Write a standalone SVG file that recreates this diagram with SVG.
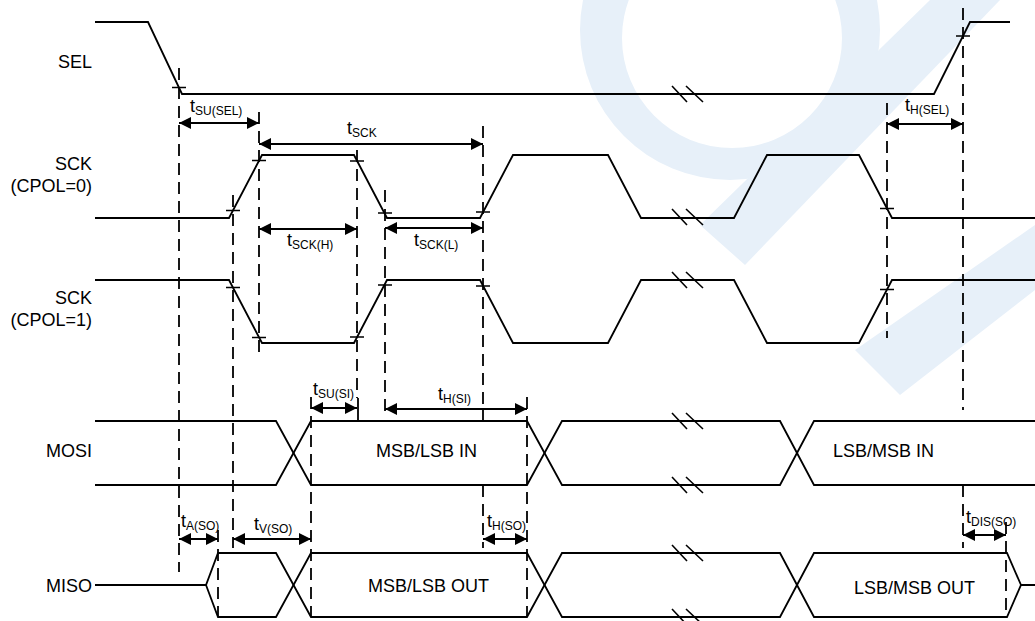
<svg xmlns="http://www.w3.org/2000/svg" width="1035" height="621" viewBox="0 0 1035 621">
<defs>
<marker id="ah" markerUnits="userSpaceOnUse" markerWidth="12" markerHeight="12" refX="12" refY="6" orient="auto-start-reverse"><path d="M0,0 L12,6 L0,12 z" fill="#000"/></marker>
<style>
.w{fill:none;stroke:#000;stroke-width:1.8;stroke-linejoin:miter}
.d{fill:none;stroke:#000;stroke-width:1.8;stroke-dasharray:12 7}
.x{fill:none;stroke:#000;stroke-width:1.6}
.a{stroke:#000;stroke-width:1.8;marker-start:url(#ah);marker-end:url(#ah)}
.lbl{font-family:"Liberation Sans",Arial,sans-serif;font-size:18px;fill:#000}
.sub{font-size:12px}
.wm{fill:#e7f0f9}
</style>
</defs>
<rect width="1035" height="621" fill="#fff"/>
<g id="watermark">
<path class="wm" fill-rule="evenodd" d="M580,30 a150,150 0 1,0 300,0 a150,150 0 1,0 -300,0 Z M622,38 a110,110 0 1,0 220,0 a110,110 0 1,0 -220,0 Z"/>
<path class="wm" d="M930,0 L1000,0 L745,265 L700,225 Z"/>
<path class="wm" d="M1035,225 L1035,290 L900,395 L855,350 Z"/>
</g>
<g id="sel">
<text class="lbl" x="92" y="68" text-anchor="end">SEL</text>
<path class="w" d="M95,22 H148 L182,94 H934 L970,22 H1010"/>
</g>
<g id="sck0">
<text class="lbl" x="92" y="170" text-anchor="end">SCK</text>
<text class="lbl" x="92" y="192" text-anchor="end">(CPOL=0)</text>
<path class="w" d="M95,218 H229 L262,155 H354 L387,218 H480 L513,155 H608 L641,218 H734 L767,155 H859 L892,218 H1035"/>
</g>
<g id="sck1">
<text class="lbl" x="92" y="304" text-anchor="end">SCK</text>
<text class="lbl" x="92" y="326" text-anchor="end">(CPOL=1)</text>
<path class="w" d="M95,280 H229 L262,343 H354 L387,280 H480 L513,343 H608 L641,280 H734 L767,343 H859 L892,280 H1035"/>
</g>
<g id="mosi">
<text class="lbl" x="92" y="457" text-anchor="end">MOSI</text>
<path class="w" d="M95,421 H276 L311,485 H527 L562,421 H780 L814,485 H1035"/>
<path class="w" d="M95,485 H276 L311,421 H527 L562,485 H780 L814,421 H1035"/>
<text class="lbl" x="376" y="457">MSB/LSB IN</text>
<text class="lbl" x="833" y="457">LSB/MSB IN</text>
</g>
<g id="miso">
<text class="lbl" x="92" y="592" text-anchor="end">MISO</text>
<path class="w" d="M95,585 H206 L218,553 H276 L311,617 H527 L562,553 H780 L814,617 H1007 L1021,585 H1035"/>
<path class="w" d="M206,585 L218,617 H276 L311,553 H527 L562,617 H780 L814,553 H1007 L1021,585"/>
<text class="lbl" x="368" y="592">MSB/LSB OUT</text>
<text class="lbl" x="854" y="594">LSB/MSB OUT</text>
</g>
<g id="breaks">
<path class="x" d="M672,86 L687,102 M686,86 L703,102 M672,209 L687,225 M686,209 L703,225 M672,272 L687,288 M686,272 L703,288 M672,413 L687,429 M686,413 L703,429 M672,477 L687,493 M686,477 L703,493 M672,545 L687,561 M686,545 L703,561 M672,609 L687,625 M686,609 L703,625"/>
</g>
<g id="connectors">
<path class="d" d="M179,68 V572 M233,195 V548 M259,112 V356 M357,150 V398 M385,190 V414 M483,126 V408 M483,485 V548 M311,397 V617 M527,397 V617 M218,530 V617 M887,103 V338 M963,8 V410 M963,485 V548 M1006,522 V617"/>
<path class="w" d="M358,398 V421 M483,408 V421"/>
<path class="x" d="M172,87.5 H186 M956,36 H970 M226,210.5 H240 M252,160.5 H266 M350,161 H364 M378,213 H392 M476,212 H490 M880,208.5 H894 M226,287.5 H240 M252,337.5 H266 M350,337 H364 M378,285 H392 M476,286 H490 M880,289.5 H894"/>
<line class="a" x1="179" y1="123" x2="259" y2="123"/>
<line class="a" x1="259" y1="144" x2="483" y2="144"/>
<line class="a" x1="887" y1="124" x2="963" y2="124"/>
<line class="a" x1="259" y1="229" x2="357" y2="229"/>
<line class="a" x1="385" y1="228" x2="483" y2="228"/>
<line class="a" x1="311" y1="408" x2="357" y2="408"/>
<line class="a" x1="385" y1="409" x2="527" y2="409"/>
<line class="a" x1="179" y1="539" x2="218" y2="539"/>
<line class="a" x1="233" y1="539" x2="311" y2="539"/>
<line class="a" x1="483" y1="539" x2="527" y2="539"/>
<line class="a" x1="963" y1="535" x2="1006" y2="535"/>
<text class="lbl" x="190" y="112">t<tspan class="sub" dy="3">SU(SEL)</tspan></text>
<text class="lbl" x="347" y="134">t<tspan class="sub" dy="3">SCK</tspan></text>
<text class="lbl" x="905" y="111">t<tspan class="sub" dy="3">H(SEL)</tspan></text>
<text class="lbl" x="287" y="246">t<tspan class="sub" dy="3">SCK(H)</tspan></text>
<text class="lbl" x="414" y="246">t<tspan class="sub" dy="3">SCK(L)</tspan></text>
<text class="lbl" x="313" y="395">t<tspan class="sub" dy="3">SU(SI)</tspan></text>
<text class="lbl" x="438" y="400">t<tspan class="sub" dy="3">H(SI)</tspan></text>
<text class="lbl" x="181" y="527">t<tspan class="sub" dy="3">A(SO)</tspan></text>
<text class="lbl" x="254" y="530">t<tspan class="sub" dy="3">V(SO)</tspan></text>
<text class="lbl" x="487" y="527">t<tspan class="sub" dy="3">H(SO)</tspan></text>
<text class="lbl" x="966" y="523">t<tspan class="sub" dy="3">DIS(SO)</tspan></text>
</g>
</svg>
